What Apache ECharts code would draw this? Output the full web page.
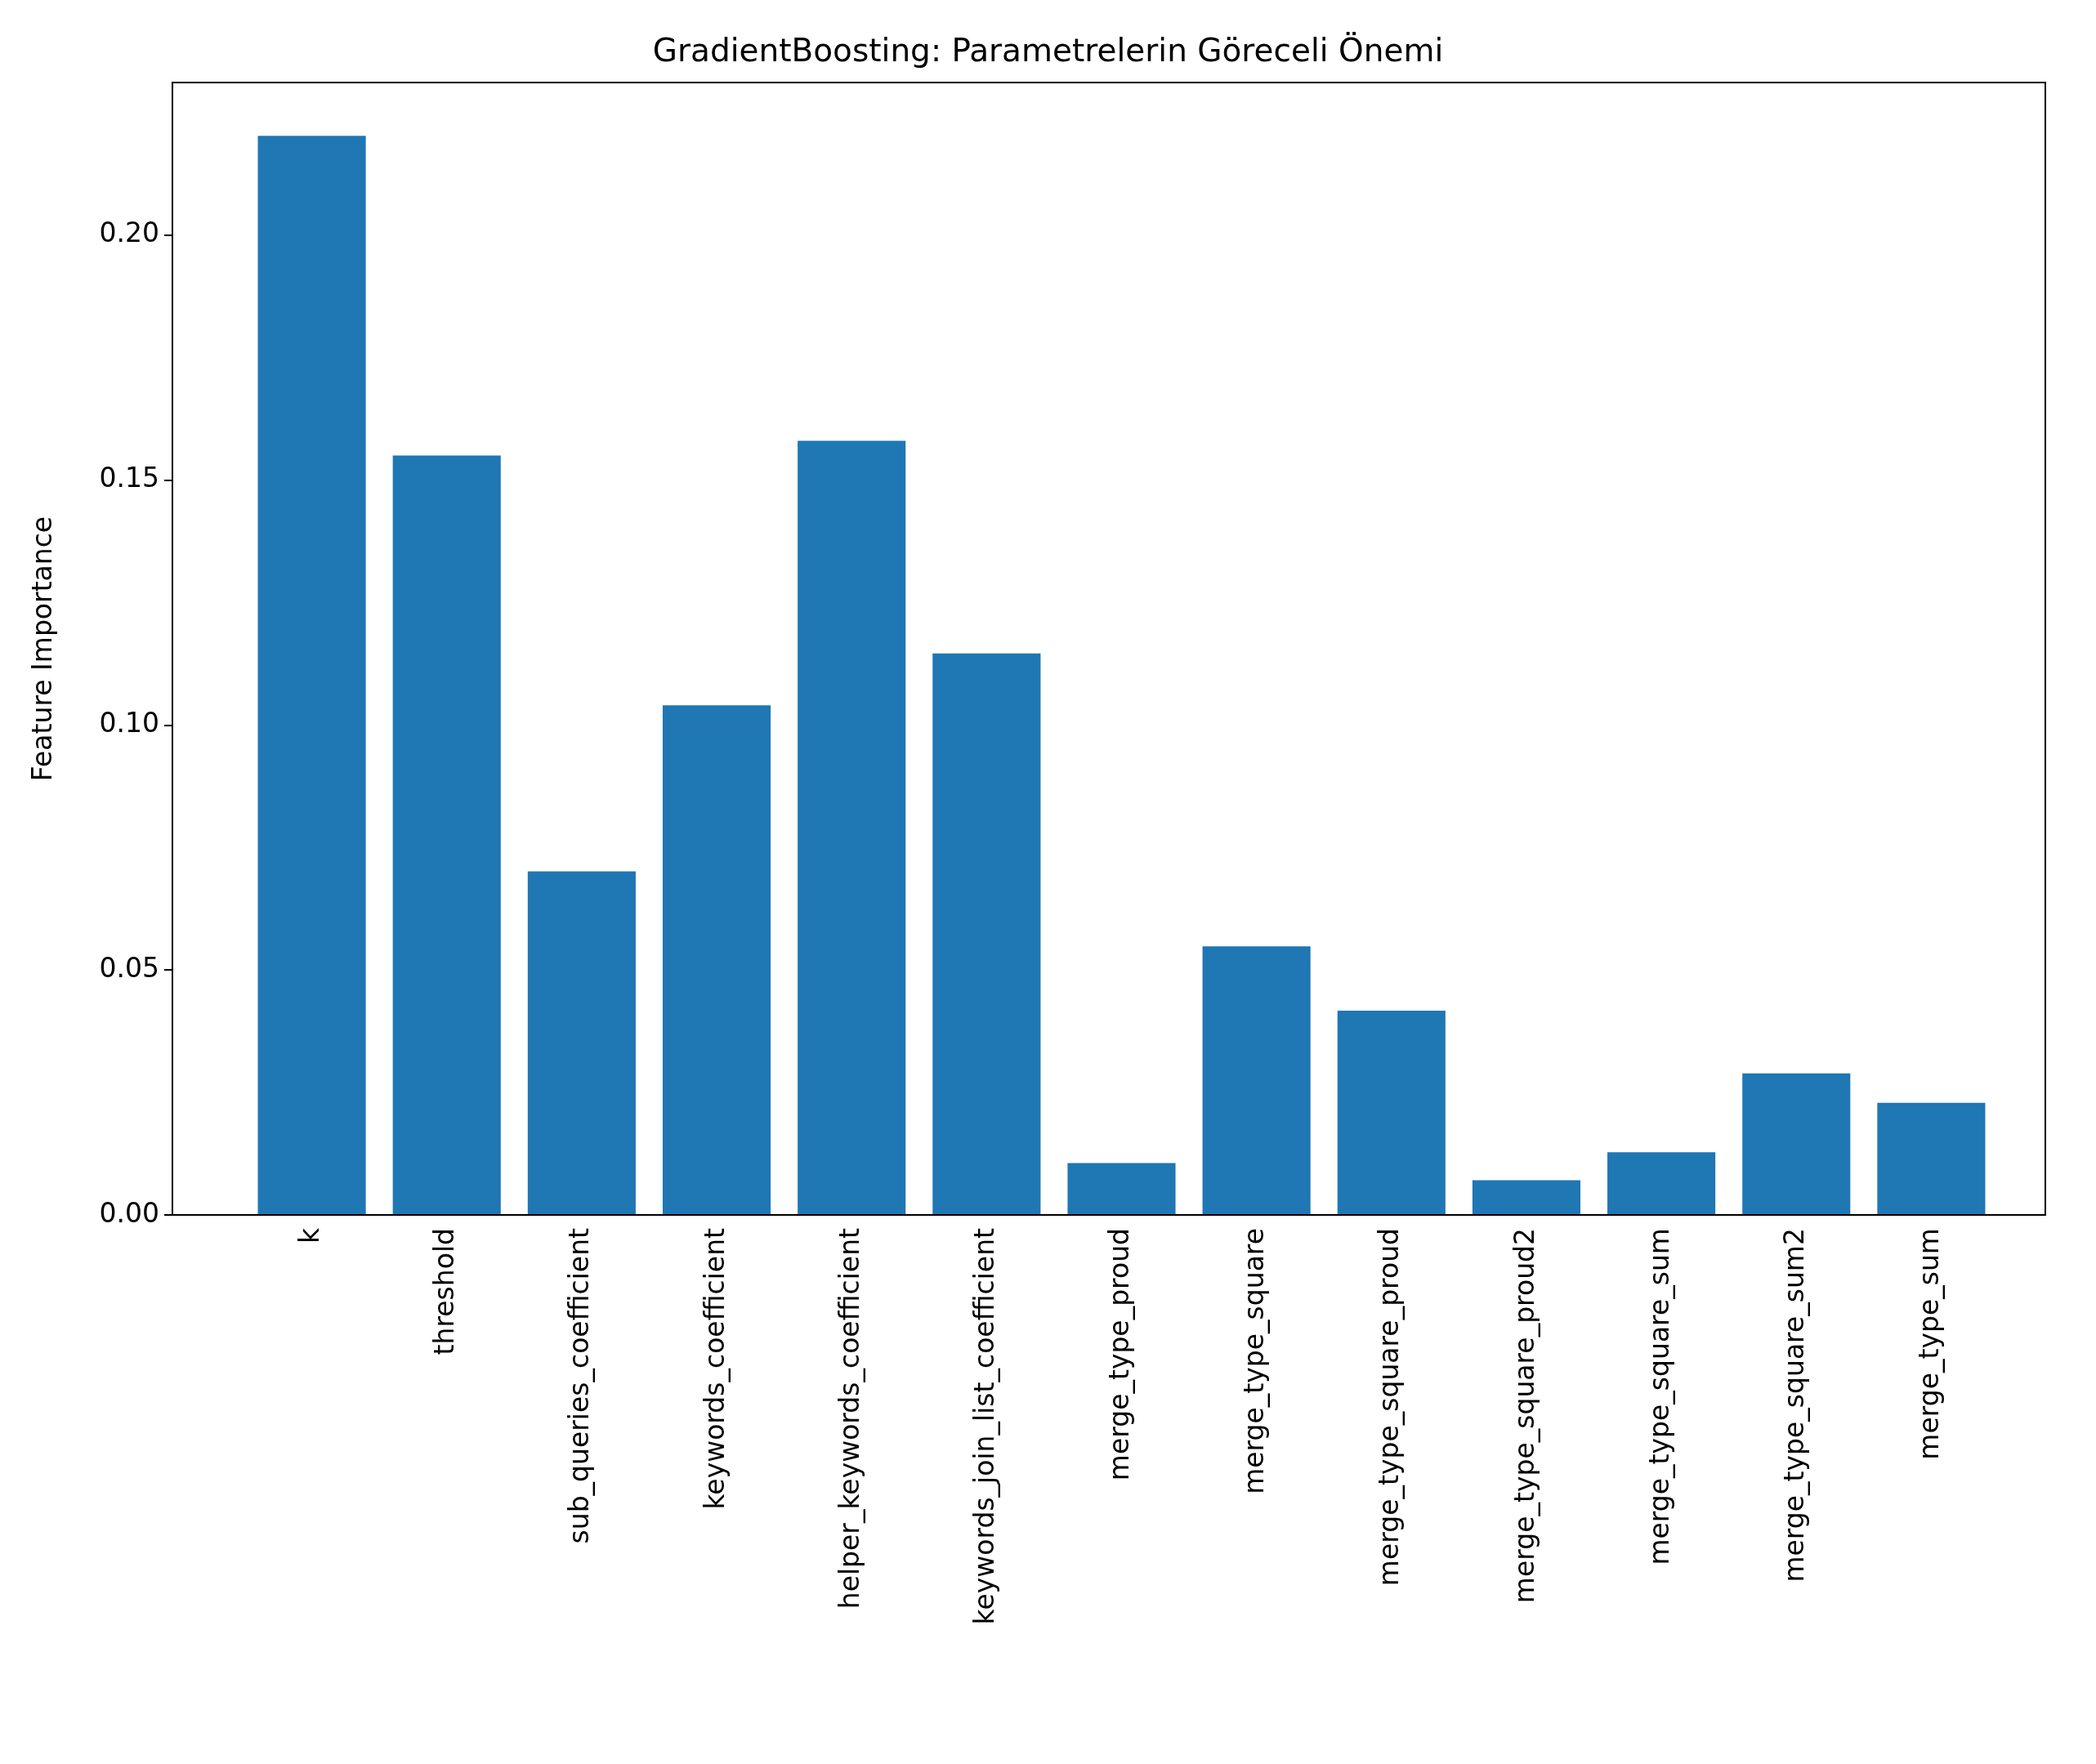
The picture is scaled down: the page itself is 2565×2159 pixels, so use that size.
<!DOCTYPE html>
<html>
<head>
<meta charset="utf-8">
<script src="https://cdn.jsdelivr.net/npm/echarts@6/dist/echarts.min.js"></script>
<style>html,body{margin:0;padding:0;background:#fff}#chart{width:2565px;height:2159px}</style>
</head>
<body>
<div id="chart"></div>
<script>
const categories = ['k', 'threshold', 'sub_queries_coefficient', 'keywords_coefficient',
    'helper_keywords_coefficient', 'keywords_join_list_coefficient', 'merge_type_proud',
    'merge_type_square', 'merge_type_square_proud', 'merge_type_square_proud2',
    'merge_type_square_sum', 'merge_type_square_sum2', 'merge_type_sum'];
const importance = [0.2202, 0.155, 0.0701, 0.104, 0.158, 0.1146, 0.0106,
    0.0548, 0.0417, 0.0071, 0.0128, 0.0289, 0.0229];
const yTicks = [0, 0.05, 0.10, 0.15, 0.20];

const font = 'DejaVu Sans';
// axes frame (matplotlib style, with x margins outside the category band)
const frame = { left: 211, top: 101, right: 2503, bottom: 1487 };
const chart = echarts.init(document.getElementById('chart'));
chart.setOption({
    animation: false,
    title: {
        text: 'GradientBoosting: Parametrelerin Göreceli Önemi',
        left: 'center', top: 40,
        textStyle: { fontFamily: font, fontSize: 39, fontWeight: 'normal', color: '#000' }
    },
    grid: { left: 299, right: 119, top: 101, bottom: 672, show: false },
    graphic: [{
        type: 'rect',
        shape: { x: frame.left, y: frame.top, width: frame.right - frame.left, height: frame.bottom - frame.top },
        style: { fill: 'none', stroke: '#000', lineWidth: 2 },
        z: 100
    }],
    xAxis: {
        type: 'category',
        data: categories,
        axisLine: { show: false },
        axisTick: { alignWithLabel: true, length: 10, lineStyle: { color: '#000', width: 2 } },
        axisLabel: { rotate: 90, interval: 0, fontFamily: font, fontSize: 33, color: '#000', margin: 16 }
    },
    yAxis: {
        type: 'value',
        min: 0, max: 0.2311,
        offset: 88,
        name: 'Feature Importance',
        nameLocation: 'middle', nameGap: 140,
        nameTextStyle: { fontFamily: font, fontSize: 33, color: '#000' },
        splitLine: { show: false },
        axisLine: { show: false },
        axisTick: { show: true, length: 10, customValues: yTicks, lineStyle: { color: '#000', width: 2 } },
        axisLabel: {
            fontFamily: font, fontSize: 33, color: '#000', margin: 16,
            customValues: yTicks,
            formatter: v => v.toFixed(2)
        }
    },
    series: [{
        type: 'bar',
        data: importance,
        barWidth: '80%',
        itemStyle: { color: '#1f77b4' }
    }]
});
</script>
</body>
</html>
